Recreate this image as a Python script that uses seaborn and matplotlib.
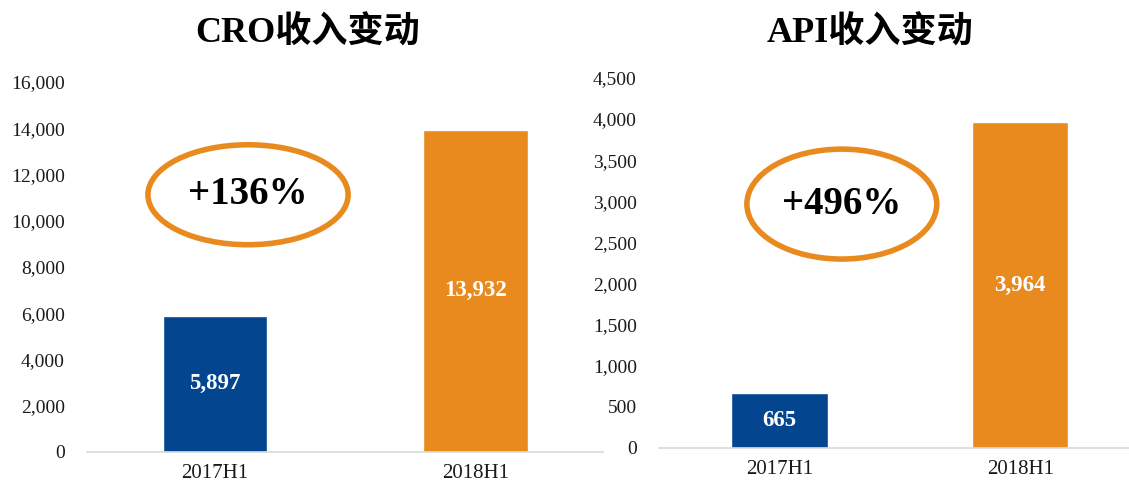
import matplotlib
matplotlib.use("Agg")
import matplotlib.pyplot as plt
import seaborn as sns
import pandas as pd
from matplotlib.patches import Ellipse
from matplotlib.ticker import FuncFormatter

sns.set_style("white")
plt.rcParams['font.family'] = ['Liberation Serif', 'Noto Sans CJK SC', 'DejaVu Sans']
plt.rcParams['text.color'] = 'black'

categories = ["2017H1", "2018H1"]
cro_values = [5897, 13932]
api_values = [665, 3964]
cro_growth = "+136%"
api_growth = "+496%"
titles = ["CRO收入变动", "API收入变动"]

blue = "#03468F"
orange = "#E98A1F"

fig = plt.figure(figsize=(11.29, 4.87), dpi=100)
ax1 = fig.add_axes([0.0771, 0.0719, 0.457, 0.76])
ax2 = fig.add_axes([0.5837, 0.0801, 0.4163, 0.76])

specs = [
    (ax1, cro_values, cro_growth, (0, 16000), 2000, (-0.492, 1.49), (0.312, 0.695, 0.388, 0.27)),
    (ax2, api_values, api_growth, (0, 4500), 500, (-0.5, 1.452), (0.389, 0.659, 0.404, 0.297)),
]

for ax, vals, growth, ylim, step, xlim, ell in specs:
    df = pd.DataFrame({"cat": categories, "val": vals})
    sns.barplot(data=df, x="cat", y="val", hue="cat", palette=[blue, orange],
                width=0.4, legend=False, ax=ax, saturation=1)
    ax.set_ylim(*ylim)
    ax.set_xlim(*xlim)
    ax.set_yticks(range(ylim[0], ylim[1] + 1, step))
    ax.yaxis.set_major_formatter(FuncFormatter(lambda v, p: f"{int(v):,}"))
    ax.set_xlabel("")
    ax.set_ylabel("")
    for s in ["top", "right", "left"]:
        ax.spines[s].set_visible(False)
    ax.spines["bottom"].set_color("#d9d9d9")
    ax.spines["bottom"].set_linewidth(1.2)
    ax.tick_params(axis="y", length=0, pad=16, labelsize=14, labelcolor="#1a1a1a")
    ax.tick_params(axis="x", length=0, pad=9, labelsize=15, labelcolor="#1a1a1a")
    for c in ax.containers:
        ax.bar_label(c, labels=[f"{int(round(v)):,}" for v in c.datavalues], label_type="center",
                     color="white", fontsize=16.5, fontweight="bold")
    cx, cy, w, h = ell
    e = Ellipse((cx, cy), w, h, transform=ax.transAxes, fill=False,
                edgecolor=orange, linewidth=4, clip_on=False)
    ax.add_patch(e)
    ax.text(cx, cy, growth, transform=ax.transAxes, ha="center", va="center",
            fontsize=28, fontweight="bold", color="black")

fig.text(308 / 1129, 1 - 33 / 487, titles[0], ha="center", va="center",
         fontsize=26, fontweight="bold", color="black")
fig.text(870 / 1129, 1 - 33 / 487, titles[1], ha="center", va="center",
         fontsize=26, fontweight="bold", color="black")

fig.savefig("out.png", dpi=100)
